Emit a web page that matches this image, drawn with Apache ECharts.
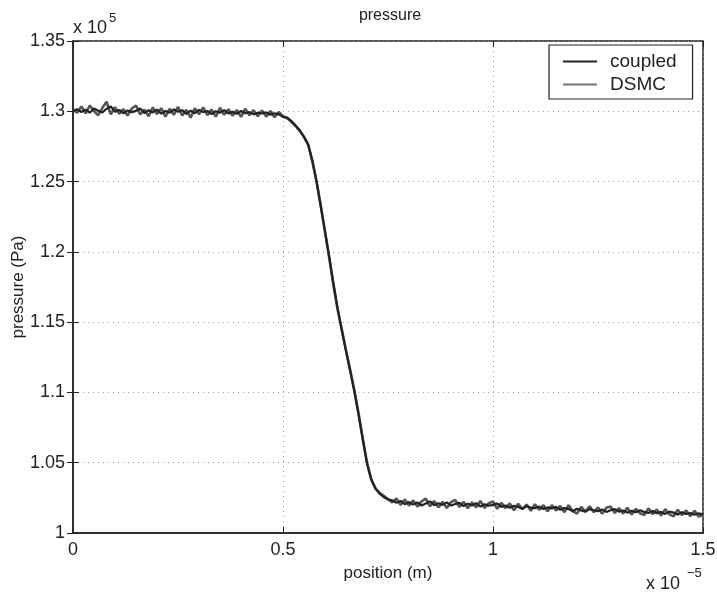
<!DOCTYPE html>
<html>
<head>
<meta charset="utf-8">
<script src="https://cdn.jsdelivr.net/npm/echarts@6/dist/echarts.min.js"></script>
<style>
  html, body { margin: 0; padding: 0; background: #fff; }
  #main { width: 717px; height: 593px; }
</style>
</head>
<body>
<div id="main"></div>
<script>
// position (x 1e-5 m)
var positions = [
  0.00, 0.01, 0.02, 0.03, 0.04, 0.05, 0.06, 0.07, 0.08, 0.09,
  0.10, 0.11, 0.12, 0.13, 0.14, 0.15, 0.16, 0.17, 0.18, 0.19,
  0.20, 0.21, 0.22, 0.23, 0.24, 0.25, 0.26, 0.27, 0.28, 0.29,
  0.30, 0.31, 0.32, 0.33, 0.34, 0.35, 0.36, 0.37, 0.38, 0.39,
  0.40, 0.41, 0.42, 0.43, 0.44, 0.45, 0.46, 0.47, 0.48, 0.49,
  0.50, 0.51, 0.52, 0.53, 0.54, 0.55, 0.56, 0.57, 0.58, 0.59,
  0.60, 0.61, 0.62, 0.63, 0.64, 0.65, 0.66, 0.67, 0.68, 0.69,
  0.70, 0.71, 0.72, 0.73, 0.74, 0.75, 0.76, 0.77, 0.78, 0.79,
  0.80, 0.81, 0.82, 0.83, 0.84, 0.85, 0.86, 0.87, 0.88, 0.89,
  0.90, 0.91, 0.92, 0.93, 0.94, 0.95, 0.96, 0.97, 0.98, 0.99,
  1.00, 1.01, 1.02, 1.03, 1.04, 1.05, 1.06, 1.07, 1.08, 1.09,
  1.10, 1.11, 1.12, 1.13, 1.14, 1.15, 1.16, 1.17, 1.18, 1.19,
  1.20, 1.21, 1.22, 1.23, 1.24, 1.25, 1.26, 1.27, 1.28, 1.29,
  1.30, 1.31, 1.32, 1.33, 1.34, 1.35, 1.36, 1.37, 1.38, 1.39,
  1.40, 1.41, 1.42, 1.43, 1.44, 1.45, 1.46, 1.47, 1.48, 1.49,
  1.50
];

// pressure (x 1e5 Pa)
var dsmc = [
  1.3012, 1.2990, 1.3035, 1.2985, 1.3040, 1.3002, 1.2972, 1.3025, 1.3068, 1.2978,
  1.3030, 1.2982, 1.3015, 1.2970, 1.3020, 1.3040, 1.2978, 1.3012, 1.2965, 1.3028,
  1.2980, 1.3022, 1.2962, 1.3018, 1.2975, 1.3032, 1.2970, 1.3010, 1.2955, 1.3022,
  1.2978, 1.3028, 1.2972, 1.3012, 1.2962, 1.3025, 1.2975, 1.3015, 1.2968, 1.3010,
  1.2960, 1.3018, 1.2972, 1.3008, 1.2965, 1.3005, 1.2962, 1.3002, 1.2958, 1.2995,
  1.2965, 1.2950, 1.2925, 1.2895, 1.2860, 1.2820, 1.2765, 1.2640, 1.2500, 1.2330,
  1.2140, 1.1960, 1.1760, 1.1590, 1.1450, 1.1300, 1.1160, 1.1015, 1.0850, 1.0670,
  1.0500, 1.0380, 1.0320, 1.0285, 1.0265, 1.0240, 1.0218, 1.0245, 1.0200, 1.0238,
  1.0195, 1.0232, 1.0188, 1.0225, 1.0245, 1.0190, 1.0228, 1.0182, 1.0222, 1.0178,
  1.0220, 1.0235, 1.0185, 1.0222, 1.0176, 1.0218, 1.0182, 1.0228, 1.0178, 1.0212,
  1.0225, 1.0172, 1.0215, 1.0176, 1.0210, 1.0162, 1.0208, 1.0170, 1.0202, 1.0158,
  1.0205, 1.0165, 1.0198, 1.0155, 1.0198, 1.0160, 1.0192, 1.0148, 1.0198, 1.0155,
  1.0138, 1.0185, 1.0152, 1.0190, 1.0148, 1.0182, 1.0136, 1.0180, 1.0188, 1.0142,
  1.0178, 1.0138, 1.0180, 1.0132, 1.0172, 1.0140, 1.0128, 1.0175, 1.0135, 1.0168,
  1.0125, 1.0170, 1.0132, 1.0118, 1.0165, 1.0128, 1.0160, 1.0120, 1.0158, 1.0116,
  1.0130
];

var coupled = [
  1.3002, 1.3015, 1.2995, 1.3012, 1.2990, 1.3020, 1.3004, 1.2992, 1.3018, 1.3035,
  1.2996, 1.3010, 1.2985, 1.3006, 1.2994, 1.3003, 1.3020, 1.2988, 1.3008, 1.2992,
  1.3012, 1.2983, 1.3002, 1.2990, 1.3014, 1.2996, 1.3008, 1.2982, 1.3004, 1.2986,
  1.3010, 1.2994, 1.3002, 1.2980, 1.3000, 1.2990, 1.3008, 1.2985, 1.2996, 1.2982,
  1.3002, 1.2986, 1.2994, 1.2978, 1.2990, 1.2984, 1.2992, 1.2976, 1.2986, 1.2978,
  1.2960, 1.2955, 1.2930, 1.2900, 1.2865, 1.2815, 1.2760, 1.2650, 1.2495, 1.2320,
  1.2150, 1.1965, 1.1780, 1.1600, 1.1440, 1.1295, 1.1150, 1.1005, 1.0840, 1.0665,
  1.0495, 1.0385, 1.0315, 1.0280, 1.0255, 1.0240, 1.0232, 1.0215, 1.0228, 1.0205,
  1.0220, 1.0202, 1.0218, 1.0195, 1.0210, 1.0225, 1.0198, 1.0212, 1.0200, 1.0218,
  1.0195, 1.0206, 1.0215, 1.0192, 1.0208, 1.0196, 1.0212, 1.0188, 1.0205, 1.0194,
  1.0200, 1.0210, 1.0186, 1.0196, 1.0180, 1.0194, 1.0185, 1.0172, 1.0192, 1.0180,
  1.0176, 1.0188, 1.0170, 1.0182, 1.0174, 1.0186, 1.0165, 1.0178, 1.0170, 1.0155,
  1.0172, 1.0160, 1.0152, 1.0170, 1.0162, 1.0155, 1.0168, 1.0150, 1.0162, 1.0170,
  1.0152, 1.0160, 1.0145, 1.0158, 1.0148, 1.0162, 1.0150, 1.0142, 1.0156, 1.0140,
  1.0150, 1.0136, 1.0152, 1.0145, 1.0132, 1.0148, 1.0135, 1.0142, 1.0130, 1.0140,
  1.0132
];

function pairs(ys) {
  return positions.map(function (x, i) { return [x, ys[i]]; });
}

var FONT = 'Liberation Sans, Arial, Helvetica, sans-serif';
var chart = echarts.init(document.getElementById('main'), null, { renderer: 'canvas' });

var tickStyle = { show: true, inside: true, length: 6, lineStyle: { color: '#222', width: 1 } };
var dotted = { show: true, lineStyle: { color: '#9a9a9a', type: [1, 4], width: 1 } };

chart.setOption({
  animation: false,
  backgroundColor: '#fff',
  title: {
    text: 'pressure',
    left: 385, top: 3,
    textAlign: 'center',
    textStyle: { fontFamily: FONT, fontSize: 16, fontWeight: 'normal', color: '#222' }
  },
  grid: {
    left: 73, right: 14, top: 41, bottom: 60,
    outerBoundsMode: 'none', containLabel: false,
    show: true, borderColor: '#222', borderWidth: 1.5, backgroundColor: 'transparent'
  },
  legend: {
    data: ['coupled', 'DSMC'],
    orient: 'vertical',
    left: 549, top: 45,
    padding: [7, 16, 5, 14],
    itemGap: 4,
    icon: 'rect',
    itemWidth: 34, itemHeight: 2,
    borderColor: '#222', borderWidth: 1.2,
    backgroundColor: '#fff',
    textStyle: { fontFamily: FONT, fontSize: 19, color: '#222', padding: [0, 0, 0, 8] }
  },
  xAxis: [{
    type: 'value', min: 0, max: 1.5, interval: 0.5,
    name: 'position (m)', nameLocation: 'middle', nameGap: 32,
    nameTextStyle: { fontFamily: FONT, fontSize: 17, color: '#222' },
    axisLine: { show: true, lineStyle: { color: '#222', width: 1.5 } },
    axisTick: tickStyle,
    axisLabel: { fontFamily: FONT, fontSize: 18, color: '#222', margin: 8,
      formatter: function (v) { return String(v); } },
    splitLine: dotted
  }, {
    type: 'value', min: 0, max: 1.5, interval: 0.5, position: 'top',
    axisLine: { show: false }, axisTick: tickStyle, axisLabel: { show: false }, splitLine: { show: false }
  }],
  yAxis: [{
    type: 'value', min: 1, max: 1.35, interval: 0.05,
    name: 'pressure (Pa)', nameLocation: 'middle', nameGap: 46, nameMoveOverlap: false,
    nameTextStyle: { fontFamily: FONT, fontSize: 17, color: '#222' },
    axisLine: { show: true, lineStyle: { color: '#222', width: 1.5 } },
    axisTick: tickStyle,
    axisLabel: { fontFamily: FONT, fontSize: 18, color: '#222', margin: 8,
      formatter: function (v) { return String(+v.toFixed(2)); } },
    splitLine: dotted
  }, {
    type: 'value', min: 1, max: 1.35, interval: 0.05, position: 'right',
    axisLine: { show: false }, axisTick: tickStyle, axisLabel: { show: false }, splitLine: { show: false }
  }],
  graphic: [
    { type: 'text', left: 73, top: 19, style: { text: 'x 10', font: '18px ' + FONT, fill: '#222' } },
    { type: 'text', left: 109, top: 12, style: { text: '5', font: '13px ' + FONT, fill: '#222' } },
    { type: 'text', left: 646, top: 575, style: { text: 'x 10', font: '18px ' + FONT, fill: '#222' } },
    { type: 'text', left: 687, top: 567, style: { text: '\u22125', font: '13px ' + FONT, fill: '#222' } }
  ],
  series: [{
    name: 'coupled', type: 'line', symbol: 'none',
    data: pairs(coupled),
    lineStyle: { color: '#222', width: 2.2 },
    itemStyle: { color: '#222' },
    z: 3
  }, {
    name: 'DSMC', type: 'line', symbol: 'none',
    data: pairs(dsmc),
    lineStyle: { color: '#555', width: 2.6 },
    itemStyle: { color: '#777' },
    z: 2
  }]
});
</script>
</body>
</html>
